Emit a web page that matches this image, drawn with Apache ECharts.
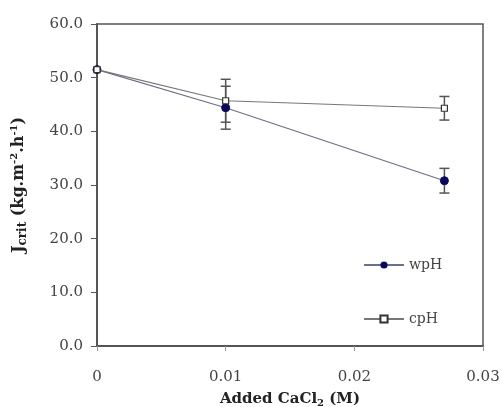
<!DOCTYPE html>
<html>
<head>
<meta charset="utf-8">
<script src="https://cdn.jsdelivr.net/npm/echarts@6/dist/echarts.min.js"></script>
<style>
  html, body { margin: 0; padding: 0; background: #fff; }
  #chart { width: 502px; height: 407px; }
</style>
</head>
<body>
<div id="chart"></div>
<script>
// added CaCl2 (M)
var caCl2 = [0, 0.01, 0.027];
// J crit values
var wpH = [51.5, 44.4, 30.8];
var cpH = [51.5, 45.7, 44.3];
// error bar half-widths
var wpHErr = [0, 4.0, 2.3];
var cpHErr = [0, 4.0, 2.2];
var yTicks = ['0.0', '10.0', '20.0', '30.0', '40.0', '50.0', '60.0'];

function pairs(xs, ys){
	var out = [];
	for (var i = 0; i < xs.length; i++) {
		out.push([xs[i], ys[i]]);
	}
	return out;
}

function errData(xs, ys, es){
	var out = [];
	for (var i = 0; i < xs.length; i++) {
		if (es[i] > 0) out.push([xs[i], ys[i] - es[i], ys[i] + es[i]]);
	}
	return out;
}

function errRender(params, api){
	var x = api.value(0);
	var lo = api.coord([x, api.value(1)]);
	var hi = api.coord([x, api.value(2)]);
	var w = 5;
	var st = { stroke: '#555', lineWidth: 1.5 };
	return {
		type: 'group',
		children: [
			{ type: 'line', shape: { x1: lo[0], y1: lo[1], x2: hi[0], y2: hi[1] }, style: st },
			{ type: 'line', shape: { x1: lo[0] - w, y1: lo[1], x2: lo[0] + w, y2: lo[1] }, style: st },
			{ type: 'line', shape: { x1: hi[0] - w, y1: hi[1], x2: hi[0] + w, y2: hi[1] }, style: st }
		]
	};
}

// the original figure is stretched sideways, DejaVu Serif is wide enough to match
var serif = '"DejaVu Serif", "Liberation Serif", serif';

var option = {
	animation: false,
	backgroundColor: '#fff',
	grid: {
		left: 97, right: 19, top: 24, bottom: 61,
		outerBoundsMode: 'none',
		containLabel: false,
		show: true, borderColor: '#555', borderWidth: 1.5
	},
	legend: {
		orient: 'vertical',
		left: 358,
		top: 253,
		itemGap: 40,
		itemWidth: 40,
		itemHeight: 9,
		textStyle: { fontFamily: serif, fontSize: 14, color: '#444' },
		data: ['wpH', 'cpH']
	},
	xAxis: {
		type: 'value',
		min: 0, max: 0.03, interval: 0.01,
		axisLine: { show: true, lineStyle: { color: '#555', width: 2 } },
		axisTick: { show: true, inside: false, length: 5, lineStyle: { color: '#999' } },
		splitLine: { show: false },
		axisLabel: {
			fontFamily: serif, fontSize: 15, color: '#444', margin: 24,
			formatter: function(v){ return v === 0 ? '0' : String(+v.toFixed(2)); }
		},
		name: 'Added CaCl{sub|2} (M)',
		nameLocation: 'middle',
		nameGap: 45,
		nameTextStyle: {
			fontFamily: serif, fontSize: 15, fontWeight: 'bold', color: '#222',
			rich: { sub: { fontFamily: serif, fontSize: 10, fontWeight: 'bold', color: '#222', padding: [7, 0, 0, 0] } }
		}
	},
	yAxis: {
		type: 'value',
		min: 0, max: 60, interval: 10,
		axisLine: { show: true, lineStyle: { color: '#555', width: 2 } },
		axisTick: { show: true, length: 6, lineStyle: { color: '#555' } },
		splitLine: { show: false },
		axisLabel: {
			fontFamily: serif, fontSize: 15, color: '#444', margin: 14,
			formatter: function(v){ return yTicks[Math.round(v / 10)]; }
		},
		name: 'J{sub|crit} (kg.m{sup|-2}.h{sup|-1})',
		nameLocation: 'middle',
		nameRotate: 90,
		nameGap: 68,
		nameTextStyle: {
			fontFamily: serif, fontSize: 16, fontWeight: 'bold', color: '#222',
			rich: {
				sub: { fontFamily: serif, fontSize: 12, fontWeight: 'bold', color: '#222', padding: [8, 0, 0, 0] },
				sup: { fontFamily: serif, fontSize: 10, fontWeight: 'bold', color: '#222', padding: [0, 0, 9, 0] }
			}
		}
	},
	series: [
		{
			name: 'wpH',
			type: 'line',
			data: pairs(caCl2, wpH),
			symbol: 'circle',
			symbolSize: 8,
			itemStyle: { color: '#0a0a5c', borderColor: '#0a0a5c' },
			lineStyle: { color: '#6b7088', width: 1.2 },
			z: 3
		},
		{
			name: 'cpH',
			type: 'line',
			data: pairs(caCl2, cpH),
			symbol: 'rect',
			symbolSize: 6,
			itemStyle: { color: '#fff', borderColor: '#333', borderWidth: 1.2 },
			lineStyle: { color: '#777', width: 1.2 },
			z: 4
		},
		{
			name: 'wpH err',
			type: 'custom',
			renderItem: errRender,
			data: errData(caCl2, wpH, wpHErr),
			z: 2
		},
		{
			name: 'cpH err',
			type: 'custom',
			renderItem: errRender,
			data: errData(caCl2, cpH, cpHErr),
			z: 2
		}
	]
};

var chart = echarts.init(document.getElementById('chart'));
chart.setOption(option);
</script>
</body>
</html>
